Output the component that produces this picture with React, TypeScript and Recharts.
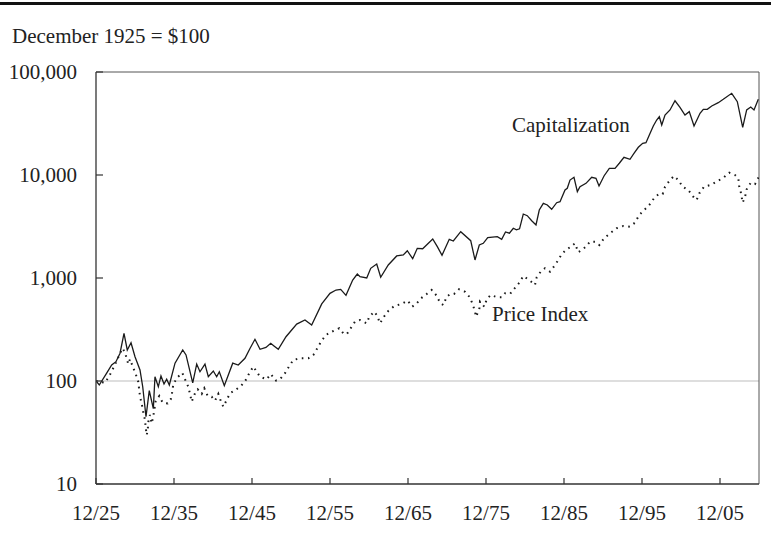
import React from 'react';
import { LineChart, Line, XAxis, YAxis, ReferenceLine } from 'recharts';

// x values are years since December 1925
const capYears = [
  0, 0.42, 1.37, 2.01, 2.56, 3.08, 3.59, 4.01, 4.49, 5.0, 5.64, 5.99, 6.41, 6.83, 7.35, 7.56, 7.99, 8.33, 8.72, 9.06,
  9.4, 10.13, 11.12, 11.54, 12.4, 12.91, 13.33, 13.97, 14.4, 15.04, 15.47, 15.81, 16.45, 17.53, 18.24, 19.1, 19.74, 20.38,
  21.03, 21.79, 22.4, 22.82, 23.37, 24.36, 25.73, 26.79, 27.65, 28.94, 30.0, 30.77, 31.37, 32.05, 32.91, 33.5, 33.85,
  34.71, 35.22, 35.99, 36.5, 37.47, 38.55, 39.4, 39.91, 40.6, 41.19, 41.88, 43.17, 43.76, 44.36, 45.29, 45.81, 46.76,
  48.04, 48.59, 49.14, 49.65, 50.22, 51.45, 52.01, 52.5, 53.0, 53.5, 53.9, 54.3, 54.78, 55.29, 55.86, 56.41, 56.83,
  57.35, 57.86, 58.42, 59.06, 59.49, 60.13, 60.42, 60.77, 61.28, 61.71, 62.05, 62.82, 63.55, 64.1, 64.49, 65.13, 65.81,
  66.54, 67.09, 67.69, 68.46, 68.97, 69.53, 70.09, 70.51, 70.94, 71.45, 71.88, 72.22, 72.53, 72.95, 73.59, 74.23, 74.87,
  75.51, 76.06, 76.67, 77.44, 77.86, 78.37, 78.94, 79.78, 80.42, 81.5, 82.22, 82.91, 83.42, 83.94, 84.36, 84.91,
];
const capValues = [
  100, 91.5, 119, 143, 154, 186, 290, 200, 235, 172, 128, 88, 45, 80.5, 54, 110, 88, 112, 93.5, 104,
  91.5, 149, 200, 179, 96, 146, 123, 146, 110, 125, 110, 123, 90, 149, 143, 166, 207, 254,
  203, 212, 232, 219, 203, 269, 357, 391, 350, 560, 710, 764, 776, 679, 955, 1093, 1030,
  1000, 1242, 1368, 1016, 1337, 1636, 1673, 1841, 1539, 1941, 1923, 2391, 2014, 1661, 2376, 2287, 2817,
  2303, 1496, 2091, 2171, 2462, 2518, 2376, 2800, 2720, 3040, 2930, 3000, 4180, 4027, 3600, 3270, 4570,
  5310, 5114, 4645, 5384, 5508, 7150, 7430, 8935, 9500, 6890, 7700, 8300, 9500, 9290, 7820, 9780, 11610,
  11610, 13000, 14860, 14200, 16250, 18580, 20320, 20600, 24450, 29900, 34200, 36800, 30550, 38250, 42800, 52600, 45400,
  38250, 41200, 29900, 39700, 43450, 43450, 46800, 50350, 54300, 62100, 51500, 29000, 42800, 45700, 42800, 54300,
];

const priceYears = [
  0, 1.15, 1.71, 2.14, 2.56, 2.99, 3.42, 3.72, 4.14, 4.36, 4.71, 5.09, 5.42, 5.64, 5.86, 6.06, 6.28, 6.37, 6.5, 6.63,
  6.71, 6.92, 7.14, 7.35, 7.65, 8.12, 8.55, 9.19, 9.58, 9.78, 9.91, 10.47, 11.06, 11.41, 11.83, 12.05, 12.27, 12.69,
  13.04, 13.55, 13.88, 14.32, 14.83, 15.26, 15.68, 16.03, 16.32, 16.76, 17.18, 17.73, 18.59, 19.19, 19.65, 20.17, 20.6,
  21.03, 21.88, 22.4, 23.08, 23.59, 24.23, 24.74, 25.29, 26.15, 27.22, 27.86, 28.37, 28.85, 29.49, 30.22, 31.19, 31.71,
  32.14, 32.65, 33.21, 33.85, 34.71, 35.04, 35.68, 36.06, 36.41, 36.92, 37.47, 38.24, 39.19, 39.96, 40.55, 41.12, 41.67,
  42.4, 43.04, 43.68, 44.1, 44.53, 44.96, 45.38, 45.9, 46.54, 47.31, 47.86, 48.29, 48.59, 48.72, 49.14, 49.23, 49.78,
  50.09, 50.6, 51.45, 52.01, 52.44, 53.08, 53.85, 54.27, 54.78, 55.42, 56.06, 56.28, 56.5, 57.01, 57.56, 58.21, 58.76,
  59.27, 59.71, 60.26, 60.77, 61.41, 61.83, 62.27, 62.82, 63.33, 63.97, 64.53, 65.13, 65.9, 66.76, 67.6, 68.46, 69.1,
  69.65, 70.38, 71.03, 71.67, 72.22, 72.65, 72.95, 73.59, 74.1, 74.65, 75.22, 75.94, 76.58, 77.01, 77.35, 77.95, 78.81,
  79.78, 80.51, 81.19, 81.92, 82.35, 82.47, 82.65, 82.91, 83.21, 83.42, 83.94, 84.49, 84.95,
];
const priceValues = [
  100, 96, 112, 130, 151, 179, 208, 188, 146, 163, 138, 117, 98, 71, 60, 50, 42, 35.5, 29.9, 33.4,
  40, 46.8, 38.8, 45.7, 64, 71.5, 61.5, 60.7, 66.4, 78.7, 93.5, 109, 120, 104, 88, 75, 63, 76,
  83, 75, 85, 71.5, 70.4, 64.4, 75, 63, 56.2, 65.5, 76, 80.5, 89.3, 102, 119, 138, 123,
  110, 104, 117, 101, 104, 119, 138, 160, 166, 166, 179, 208, 241, 280, 301, 325, 290,
  284, 325, 377, 391, 363, 421, 471, 428, 363, 421, 478, 535, 560, 603, 527, 568, 635,
  700, 765, 673, 575, 546, 658, 695, 700, 777, 736, 658, 560, 471, 421, 497, 589, 527,
  621, 684, 650, 650, 710, 700, 824, 900, 1045, 970, 889, 855, 1016, 1151, 1242, 1151, 1309,
  1496, 1710, 1871, 1987, 2171, 1778, 1871, 2014, 2251, 2251, 2091, 2428, 2716, 3043, 3200, 3150, 3445,
  4093, 4645, 5226, 6150, 6545, 6545, 7690, 8935, 9775, 8935, 7690, 7140, 6150, 5710, 6640, 7690, 8000,
  8810, 9500, 10520, 10000, 9290, 7690, 6880, 5385, 6150, 7260, 8410, 8180, 9500,
];

const xTicks = [0, 10, 20, 30, 40, 50, 60, 70, 80];
const xTickLabels = ['12/25', '12/35', '12/45', '12/55', '12/65', '12/75', '12/85', '12/95', '12/05'];
const yTicks = [10, 100, 1000, 10000, 100000];

const capData = capYears.map((t, i) => ({ t, v: capValues[i] }));
const priceData = priceYears.map((t, i) => ({ t, v: priceValues[i] }));

const FONT = '"Liberation Serif", "Times New Roman", serif';
const tickStyle = { fill: '#222', fontSize: 21, fontFamily: FONT };
const textStyle: React.CSSProperties = {
  position: 'absolute',
  fontSize: 21,
  lineHeight: '21px',
  whiteSpace: 'nowrap',
};

export default function App() {
  return (
    <div style={{ position: 'absolute', left: 0, top: 0, width: 771, height: 546, fontFamily: FONT, color: '#222', background: '#fff' }}>
      <div style={{ position: 'absolute', left: 0, top: 2, width: 771, height: 3, background: '#111' }} />
      <div style={{ ...textStyle, left: 12, top: 26 }}>December 1925 = $100</div>
      <div style={{ position: 'absolute', left: 8, top: 8 }}>
        <LineChart width={763} height={530} margin={{ top: 64, right: 12, bottom: 24, left: 0 }}>
          <XAxis
            dataKey="t"
            type="number"
            domain={[0, 85]}
            ticks={xTicks}
            interval={0}
            tickFormatter={(v: number) => xTickLabels[Math.round(v / 10)]}
            tickSize={-6}
            tickMargin={27}
            height={30}
            axisLine={{ stroke: '#333', strokeWidth: 1.3 }}
            tickLine={{ stroke: '#333', strokeWidth: 1.2 }}
            tick={tickStyle}
            allowDataOverflow
          />
          <YAxis
            type="number"
            scale="log"
            domain={[10, 100000]}
            ticks={yTicks}
            interval={0}
            tickFormatter={(v: number) => v.toLocaleString('en-US')}
            tickSize={-7}
            tickMargin={26}
            width={88}
            axisLine={{ stroke: '#333', strokeWidth: 1.3 }}
            tickLine={{ stroke: '#333', strokeWidth: 1.2 }}
            tick={tickStyle}
            allowDataOverflow
          />
          <ReferenceLine y={100} stroke="#bdbdbd" strokeWidth={1} />
          <ReferenceLine y={100000} stroke="#555" strokeWidth={1} />
          <ReferenceLine x={85} stroke="#555" strokeWidth={1} />
          <Line
            data={capData}
            dataKey="v"
            stroke="#1a1a1a"
            strokeWidth={1.3}
            dot={false}
            activeDot={false}
            isAnimationActive={false}
          />
          <Line
            data={priceData}
            dataKey="v"
            stroke="#1a1a1a"
            strokeWidth={2}
            strokeDasharray="1.6 4.6"
            dot={false}
            activeDot={false}
            isAnimationActive={false}
          />
        </LineChart>
      </div>
      <div style={{ ...textStyle, left: 512, top: 115 }}>Capitalization</div>
      <div style={{ ...textStyle, left: 492, top: 304 }}>Price Index</div>
    </div>
  );
}
